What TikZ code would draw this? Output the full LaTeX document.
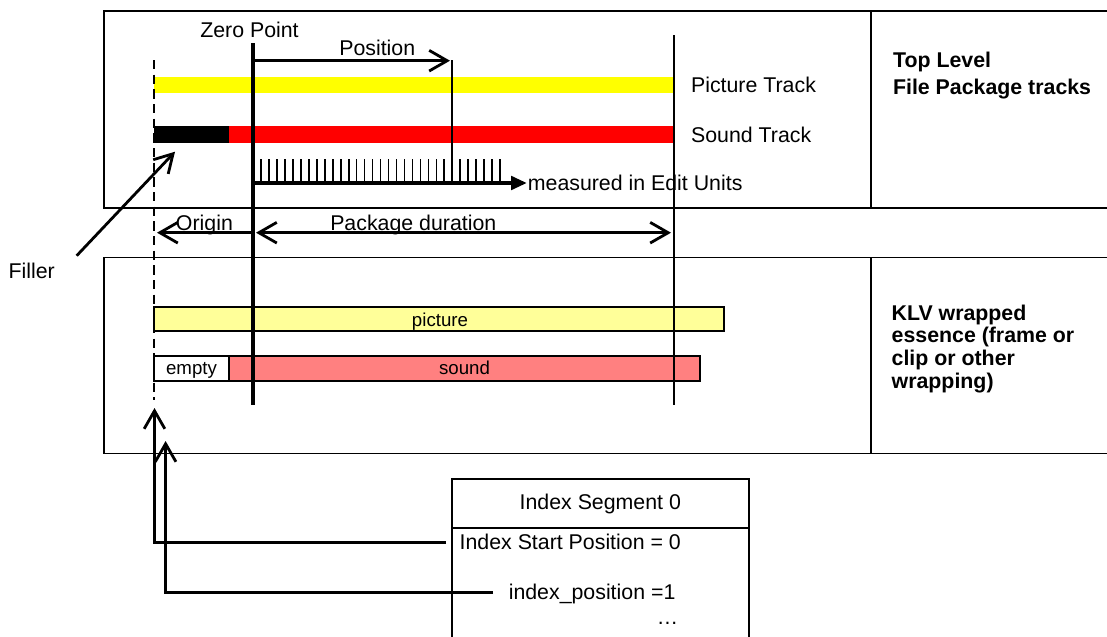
\documentclass[tikz,border=0pt]{standalone}
\usepackage{fontspec}
\setmainfont{Liberation Sans}
\usetikzlibrary{arrows.meta}
\definecolor{trackyellow}{HTML}{FFFF00}
\definecolor{trackred}{HTML}{FF0000}
\definecolor{lightyellow}{HTML}{FFFF99}
\definecolor{lightred}{HTML}{FF8080}
\begin{document}
\begin{tikzpicture}[x=0.75pt,y=-0.75pt,
  lbl/.style={inner sep=0pt, font=\fontsize{16}{19}\selectfont},
  smalllbl/.style={inner sep=0pt, font=\fontsize{14}{17}\selectfont},
  boldlbl/.style={inner sep=0pt, font=\fontsize{16}{20}\selectfont\bfseries, align=left},
  frameline/.style={line width=1.3pt},
  thinline/.style={line width=1.4pt},
  barbarrow/.style={line width=2.1pt, -{Straight Barb[length=13.5pt,width=15.5pt]}},
  barbboth/.style={line width=2.1pt, {Straight Barb[length=13.5pt,width=15.5pt]}-{Straight Barb[length=13.5pt,width=15.5pt]}},
  bar/.style={draw=black, line width=1.7pt},
]
\useasboundingbox (0,0) rectangle (1107,636);

% frames
\draw[frameline] (1110,11) -- (104,11) -- (104,208) -- (1110,208);
\draw[frameline] (871,11) -- (871,208);
\draw[frameline] (1110,257.5) -- (104,257.5) -- (104,453.5) -- (1110,453.5);
\draw[frameline] (871,257.5) -- (871,453.5);

% top tracks
\fill[trackyellow] (154,77) rectangle (673.7,93);
\fill[black] (154,126) rectangle (229,142.7);
\fill[trackred] (229,126) rectangle (673.7,142.7);

% lower essence bars
\draw[bar, fill=lightyellow] (154,307.3) rectangle (723.7,330.7);
\draw[bar, fill=white] (154,356) rectangle (229,380.7);
\draw[bar, fill=lightred] (229,356) rectangle (699.8,380.7);
\node[smalllbl, anchor=base] (pic) at (440,326) {picture};
\node[smalllbl, anchor=base] (snd) at (464.5,374.5) {sound};
\node[smalllbl, anchor=base] (emp) at (191.5,374.5) {empty};

% vertical reference lines
\draw[line width=1.3pt, dash pattern=on 7pt off 4pt] (154,60) -- (154,400);
\draw[line width=3.2pt] (253,43) -- (253,405);
\draw[thinline] (673.7,35) -- (673.7,405);
\draw[thinline] (452,60) -- (452,183);

% ticks
\foreach \i in {0,...,30} \draw[line width=1.25pt] (261+\i*7.97,159) -- (261+\i*7.97,183);
\coordinate (scaleS) at (253,183);
\coordinate (scaleE) at (527,183);
\draw[line width=3.3pt, -{Triangle[length=12pt,width=10pt]}] (scaleS) -- (scaleE);

% labels top
\node[lbl, anchor=base west] (zp) at (200,37.7) {Zero Point};
\node[lbl, anchor=base west] (pos) at (339,55.7) {Position};
\node[lbl, anchor=base west] (pt) at (690.8,92.7) {Picture Track};
\node[lbl, anchor=base west] (st) at (690.8,142.6) {Sound Track};
\node[lbl, anchor=base west] (meu) at (527.6,190.7) {measured in Edit Units};
\node[boldlbl, anchor=base west] (tl1) at (892.8,67.7) {Top Level};
\node[boldlbl, anchor=base west] (tl2) at (892.8,94.3) {File Package tracks};

% position arrow
\coordinate (posS) at (253,60.7);
\coordinate (posE) at (450,60.7);
\draw[barbarrow] (posS) -- (posE);

% origin / duration
\node[lbl, anchor=base west] (orig) at (175.7,230) {Origin};
\node[lbl, anchor=base west] (pdur) at (330,230) {Package duration};
\coordinate (origS) at (253,232.7);
\coordinate (origE) at (157,232.7);
\draw[barbarrow] (origS) -- (origE);
\coordinate (durS) at (256,232.7);
\coordinate (durE) at (671,232.7);
\draw[barbboth] (durS) -- (durE);

% filler
\node[lbl, anchor=base west] (fill) at (8.3,278.3) {Filler};
\coordinate (fillS) at (76.7,255.7);
\coordinate (fillE) at (175,151.7);
\draw[barbarrow] (fillS) -- (fillE);

% KLV text
\node[boldlbl, anchor=base west] (k1) at (891.4,320) {KLV wrapped};
\node[boldlbl, anchor=base west] (k2) at (891.4,342.7) {essence (frame or};
\node[boldlbl, anchor=base west] (k3) at (891.4,365.4) {clip or other};
\node[boldlbl, anchor=base west] (k4) at (891.4,388) {wrapping)};

% index segment
\draw[frameline] (452,645) -- (452,479.3) -- (748.7,479.3) -- (748.7,645);
\draw[frameline] (452,528.3) -- (748.7,528.3);
\node[lbl, anchor=base] (iseg) at (600.3,509) {Index Segment 0};
\node[lbl, anchor=base west] (isp) at (459.4,549.3) {Index Start Position = 0};
\node[lbl, anchor=base west] (ipos) at (508.5,599) {index\_position =1};
\node[lbl, anchor=base west] (dots) at (656.7,624) {\ldots};

\coordinate (c1S) at (446,542.7);
\coordinate (c1M) at (154.5,542.7);
\coordinate (c1E) at (154.5,408);
\draw[barbarrow] (c1S) -- (c1M) -- (c1E);
\coordinate (c2S) at (493,592.3);
\coordinate (c2M) at (165.6,592.3);
\coordinate (c2E) at (165.6,441);
\draw[barbarrow] (c2S) -- (c2M) -- (c2E);
\end{tikzpicture}
\end{document}
